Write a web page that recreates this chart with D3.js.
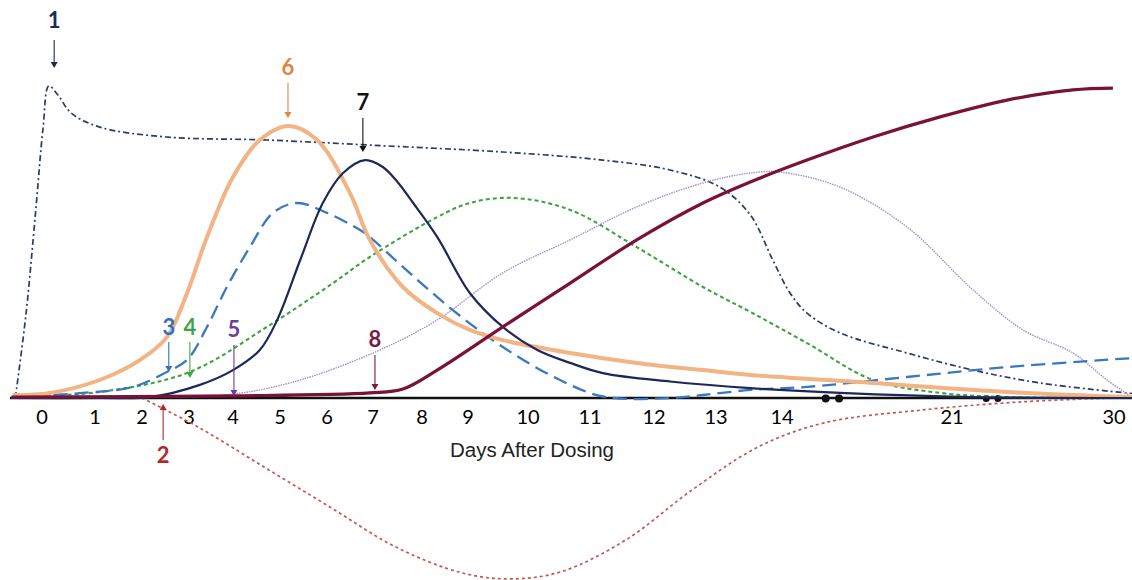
<!DOCTYPE html>
<html>
<head>
<meta charset="utf-8">
<script src="https://cdn.jsdelivr.net/npm/d3@7"></script>
<style>
  body { margin: 0; background: #fff; }
  svg { display: block; }
</style>
</head>
<body>
<svg id="chart" width="1132" height="580"></svg>
<script>
// tick days and their spacing on the (broken) axis
const tickDays = [0, 1, 2, 3, 4, 5, 6, 7, 8, 9, 10, 11, 12, 13, 14, 21, 30];
const tickLabels = ["0", "1", "2", "3", "4", "5", "6", "7", "8", "9", "10", "11", "12", "13", "14", "21", "30"];
const axisBreaks = [15.8, 16.35, 22.9, 23.55];

// curves: [day, relative level]
const curve1 = [[-0.5, 0], [-0.3, 28], [-0.12, 62], [0.02, 90], [0.13, 104], [0.3, 101], [0.55, 95], [1.1, 90.3],
  [2.53, 87], [4.72, 86], [6.93, 84.3], [9.58, 82], [11.2, 79.3], [12.26, 76], [13.06, 70.3], [13.52, 61],
  [13.86, 46], [14.33, 35], [15.03, 28.3], [16.39, 21.7], [19.15, 15], [22.17, 9.3], [25.9, 5], [31, 1.5]];
const curve2 = [[2.0, 0], [3.21, -9.7], [4.66, -23], [6.06, -36.3], [7.47, -49.7], [8.87, -58.3], [9.7, -60.3],
  [10.52, -58], [11.56, -47.3], [12.61, -30.7], [13.64, -16.3], [15.73, -8.3], [19.76, -4], [24.83, -1.3], [29.94, 0]];
const curve3 = [[-0.57, 0.3], [0.77, 1.7], [1.81, 3.7], [2.53, 8.7], [2.96, 12.7], [3.41, 23.7], [3.86, 37],
  [4.36, 50.3], [4.85, 61.7], [5.36, 65], [6.0, 61.7], [6.72, 56], [6.93, 53.7], [7.61, 43.7], [8.67, 29.3],
  [9.58, 17], [10.42, 7], [11.2, 0.5], [12.26, 0], [12.79, 1], [13.52, 2.7], [15.03, 3.7], [19.15, 7],
  [24.06, 10.3], [31, 13.3]];
const curve4 = [[-0.57, 0.3], [1.1, 2], [3.02, 8.7], [4.72, 23.7], [6.13, 38.3], [6.93, 47], [8.33, 60.3],
  [9.03, 65], [9.75, 66.7], [10.68, 62.7], [11.73, 50.3], [12.79, 37], [13.52, 28.7], [15.03, 18.3],
  [17.75, 6], [20.51, 1.7], [24.06, 0.3], [31, 0]];
const curve5 = [[-0.57, 0], [2.17, 0.3], [4.0, 1.3], [5.43, 6], [7.14, 16], [8.33, 26], [9.58, 41.7],
  [10.68, 52.7], [11.73, 63.7], [12.79, 71.7], [13.52, 75], [13.97, 75.3], [16.39, 70.3], [19.15, 57],
  [22.17, 36], [24.94, 22.7], [27.72, 15], [29.61, 6], [31, 0.3]];
const curve6 = [[-0.55, 1], [0.15, 1.7], [1.1, 6], [1.96, 12.7], [2.53, 20.3], [2.96, 35], [3.41, 53.7],
  [4.0, 73.7], [4.57, 86], [5.19, 90.7], [5.79, 86], [6.5, 68.3], [6.93, 52.7], [7.61, 37], [8.33, 28.3],
  [9.03, 22.7], [9.58, 19.3], [10.68, 15], [11.73, 11.7], [12.79, 9.3], [13.52, 7.7], [17.75, 5],
  [24.06, 2], [31, 0.3]];
const curve7 = [[-0.57, 0], [1.1, 0], [2.17, 0.3], [3.23, 4.3], [4.0, 9.3], [4.57, 16], [4.94, 26], [5.43, 46],
  [5.91, 65], [6.35, 75], [6.83, 79.3], [7.2, 77], [7.5, 72], [7.82, 65], [8.33, 53.7], [9.03, 35],
  [9.58, 23.7], [10.15, 16], [10.68, 11.7], [11.2, 8.3], [12.26, 5.5], [13.52, 3.3], [16.39, 1.7],
  [22.17, 0.3], [31, 0]];
const curve8 = [[-0.57, 0.3], [4.0, 0.7], [6.93, 1.7], [7.61, 3], [8.33, 9.3], [9.58, 23.7], [10.68, 38.3],
  [11.73, 52.7], [12.79, 65], [13.52, 72], [15.03, 79.3], [17.75, 87], [20.51, 93.7], [24.06, 99.3],
  [27.72, 102.7], [29.94, 103.3]];

const svg = d3.select("#chart");
const baseY = 398;

// piecewise scale: the axis is squeezed after day 14
const x = d3.scaleLinear()
  .domain([-0.6].concat(tickDays, [31]))
  .range([10, 42, 95, 142, 189, 233, 280, 327, 373, 422, 468, 528, 590, 654, 716, 782, 952, 1114, 1132]);
const y = d3.scaleLinear().domain([-60, 100]).range([baseY + 180, baseY - 300]);

// axis
svg.append("line")
  .attr("x1", x(-0.6)).attr("x2", x(31))
  .attr("y1", y(0)).attr("y2", y(0))
  .attr("stroke", "#111").attr("stroke-width", 2.4);

svg.selectAll("circle.brk")
  .data(axisBreaks)
  .enter().append("circle")
  .attr("class", "brk")
  .attr("cx", d => x(d)).attr("cy", y(0) + 0.5)
  .attr("r", (d, i) => i < 2 ? 4 : 3.5)
  .attr("fill", "#111");

svg.selectAll("text.tick")
  .data(tickDays)
  .enter().append("text")
  .attr("class", "tick")
  .attr("x", d => x(d)).attr("y", y(0) + 26)
  .attr("text-anchor", "middle")
  .attr("font-family", "Lato, 'Open Sans', sans-serif")
  .attr("font-size", 20)
  .attr("fill", "#000")
  .text((d, i) => tickLabels[i]);

svg.append("text")
  .attr("x", 532).attr("y", 457)
  .attr("text-anchor", "middle")
  .attr("font-family", "'Liberation Sans', Arial, sans-serif")
  .attr("font-size", 20.5)
  .attr("fill", "#222")
  .text("Days After Dosing");

const line = d3.line()
  .x(d => x(d[0]))
  .y(d => y(d[1]))
  .curve(d3.curveCatmullRom.alpha(0.5));

const series = [
  { data: curve1, color: "#2b3a6b", width: 1.7, dash: "6 3 2 3" },
  { data: curve2, color: "#c4574f", width: 1.7, dash: "3 3" },
  { data: curve5, color: "#a58fca", width: 1.4, dash: "1.5 1" },
  { data: curve4, color: "#3ea53e", width: 2.1, dash: "4 3" },
  { data: curve3, color: "#3a78c2", width: 2.3, dash: "14 7" },
  { data: curve6, color: "#f2b385", width: 4, dash: null },
  { data: curve7, color: "#1c2858", width: 2.2, dash: null },
  { data: curve8, color: "#7a1238", width: 3.2, dash: null }
];

svg.selectAll("path.curve")
  .data(series)
  .enter().append("path")
  .attr("class", "curve")
  .attr("d", d => line(d.data))
  .attr("fill", "none")
  .attr("stroke", d => d.color)
  .attr("stroke-width", d => d.width)
  .attr("stroke-dasharray", d => d.dash);

// numbered arrows: tip at [day, level], len px, text offset px (negative = above)
const notes = [
  { label: "1", day: 0.23, level: 110, len: 28, textOff: -48, color: "#1b2a5a" },
  { label: "6", day: 5.17, level: 93.3, len: 35, textOff: -51, color: "#e0843f" },
  { label: "7", day: 6.78, level: 82, len: 34, textOff: -50, color: "#111111" },
  { label: "3", day: 2.57, level: 8.7, len: 30, textOff: -45, color: "#2e72bf" },
  { label: "4", day: 3.02, level: 6.7, len: 36, textOff: -51, color: "#3ea44a" },
  { label: "5", day: 4.02, level: 0.7, len: 51, textOff: -67, color: "#6b3d9c" },
  { label: "8", day: 7.04, level: 2.7, len: 35, textOff: -51, color: "#7d1a3e" },
  { label: "2", day: 2.45, level: -2, len: -36, textOff: 51, color: "#b22a2a" }
];

const g = svg.selectAll("g.note")
  .data(notes)
  .enter().append("g")
  .attr("class", "note")
  .attr("transform", d => `translate(${x(d.day)},${y(d.level)})`);

g.append("line")
  .attr("x1", 0).attr("x2", 0)
  .attr("y1", d => -d.len)
  .attr("y2", d => d.len > 0 ? -5 : 5)
  .attr("stroke", d => d.color)
  .attr("stroke-width", 1.1);

g.append("path")
  .attr("d", d => d.len > 0 ? "M-3.5,-6L3.5,-6L0,0Z" : "M-3.5,6L3.5,6L0,0Z")
  .attr("fill", d => d.color);

g.append("text")
  .attr("x", 0).attr("y", d => d.textOff)
  .attr("dy", "0.36em")
  .attr("text-anchor", "middle")
  .attr("font-family", "Lato, 'Open Sans', sans-serif")
  .attr("font-weight", "bold")
  .attr("font-size", 22)
  .attr("fill", d => d.color)
  .text(d => d.label);
</script>
</body>
</html>
